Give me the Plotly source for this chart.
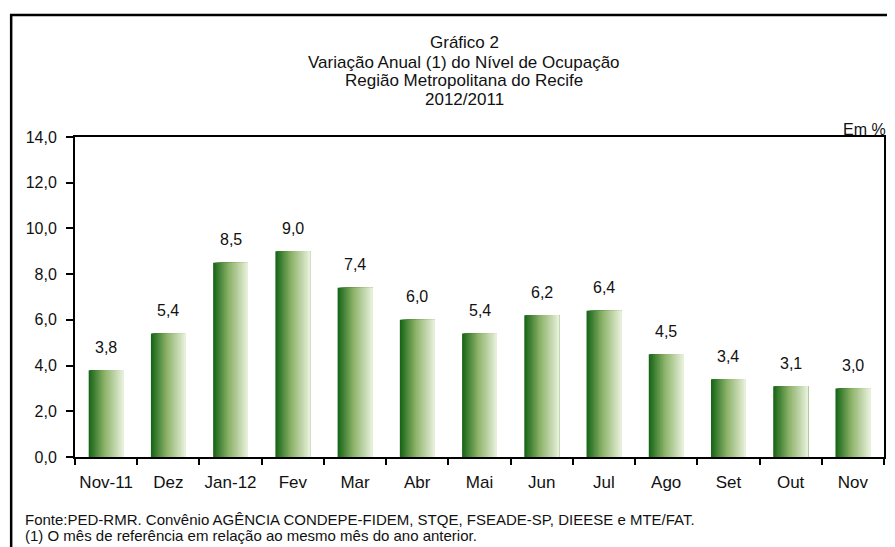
import plotly.graph_objects as go

categories = ["Nov-11", "Dez", "Jan-12", "Fev", "Mar", "Abr", "Mai", "Jun", "Jul", "Ago", "Set", "Out", "Nov"]
values = [3.8, 5.4, 8.5, 9.0, 7.4, 6.0, 5.4, 6.2, 6.4, 4.5, 3.4, 3.1, 3.0]
y_ticks = [0, 2, 4, 6, 8, 10, 12, 14]

title_lines = ["Gráfico 2", "Variação Anual (1) do Nível de Ocupação",
               "Região Metropolitana do Recife", "2012/2011"]
footer_lines = ["Fonte:PED-RMR. Convênio AGÊNCIA CONDEPE-FIDEM, STQE, FSEADE-SP, DIEESE e MTE/FAT.",
                "(1) O mês de referência em relação ao mesmo mês do ano anterior."]
unit_label = "Em %"

FONT = "Liberation Sans, Arial, sans-serif"
# page body has an 8px margin: figure is drawn from (8, 8) of the window
OFF = 8
W, H = 895 - OFF, 547 - OFF
PL, PR, PT, PB = 75, 886, 137, 457  # plot area in window pixels
ML, MR, MT, MB = PL - OFF, 895 - PR, PT - OFF, 547 - PB
PW, PH = W - ML - MR, H - MT - MB


def px_x(px):
    return (px - PL) / PW


def px_y(py):
    return (PB - py) / PH


stops = [(0.0, (24, 102, 24)), (0.45, (140, 178, 104)), (1.0, (230, 239, 218))]


def grad(t):
    for (t0, c0), (t1, c1) in zip(stops[:-1], stops[1:]):
        if t0 <= t <= t1:
            f = (t - t0) / (t1 - t0)
            return "rgb(%d,%d,%d)" % tuple(round(a + (b - a) * f) for a, b in zip(c0, c1))
    return "rgb(%d,%d,%d)" % stops[-1][1]


fig = go.Figure()
bw = 0.56
N = 28
for i in range(N):
    off = -bw / 2 + i * bw / N
    fig.add_trace(go.Bar(
        x=categories, y=values,
        offset=off, width=bw - i * bw / N,
        marker=dict(color=grad(i / (N - 1)), line=dict(width=0)),
        showlegend=False, hoverinfo="skip"))

annotations = []
for c, v in zip(categories, values):
    annotations.append(dict(x=c, y=v, xref="x", yref="y",
                            text=("%.1f" % v).replace(".", ","),
                            showarrow=False, yanchor="middle", yshift=23,
                            font=dict(family=FONT, size=16, color="#111")))

title_y = [42, 62, 81, 100]
for t, yy in zip(title_lines, title_y):
    annotations.append(dict(x=px_x(465), y=px_y(yy), xref="paper", yref="paper",
                            text=t, showarrow=False, xanchor="center", yanchor="middle",
                            font=dict(family=FONT, size=17, color="#111")))

footer_y = [519, 535]
for t, yy in zip(footer_lines, footer_y):
    annotations.append(dict(x=px_x(23), y=px_y(yy), xref="paper", yref="paper",
                            text=t, showarrow=False, xanchor="left", yanchor="middle",
                            font=dict(family=FONT, size=15, color="#111")))

annotations.append(dict(x=1.0, y=1.0, xref="paper", yref="paper", text=unit_label,
                        showarrow=False, xanchor="right", yanchor="bottom",
                        xshift=4, yshift=-3,
                        font=dict(family=FONT, size=16, color="#111")))

shapes = [dict(type="rect", xref="paper", yref="paper",
               x0=px_x(11), x1=px_x(910), y0=px_y(580), y1=px_y(15),
               line=dict(color="black", width=2.5), fillcolor="rgba(0,0,0,0)", layer="above")]

fig.update_layout(
    width=W, height=H,
    margin=dict(l=ML, r=MR, t=MT, b=MB, pad=0),
    paper_bgcolor="white", plot_bgcolor="white",
    barmode="overlay",
    separators=",.",
    font=dict(family=FONT, size=16, color="#111"),
    annotations=annotations,
    shapes=shapes,
    xaxis=dict(type="category", categoryorder="array", categoryarray=categories,
               showline=True, linecolor="black", linewidth=2, mirror=True,
               ticks="outside", tickson="boundaries", ticklen=6, tickwidth=1.5, tickcolor="black",
               ticklabelstandoff=9, tickangle=0,
               tickfont=dict(family=FONT, size=17, color="#111"),
               showgrid=False, zeroline=False, fixedrange=True),
    yaxis=dict(range=[0, 14], tickvals=y_ticks, tickformat=".1f",
               showline=True, linecolor="black", linewidth=2, mirror=True,
               ticks="outside", ticklen=7, tickwidth=1.5, tickcolor="black",
               ticklabelstandoff=6,
               tickfont=dict(family=FONT, size=16, color="#111"),
               showgrid=False, zeroline=False, fixedrange=True),
)

fig.write_html("out.html")
